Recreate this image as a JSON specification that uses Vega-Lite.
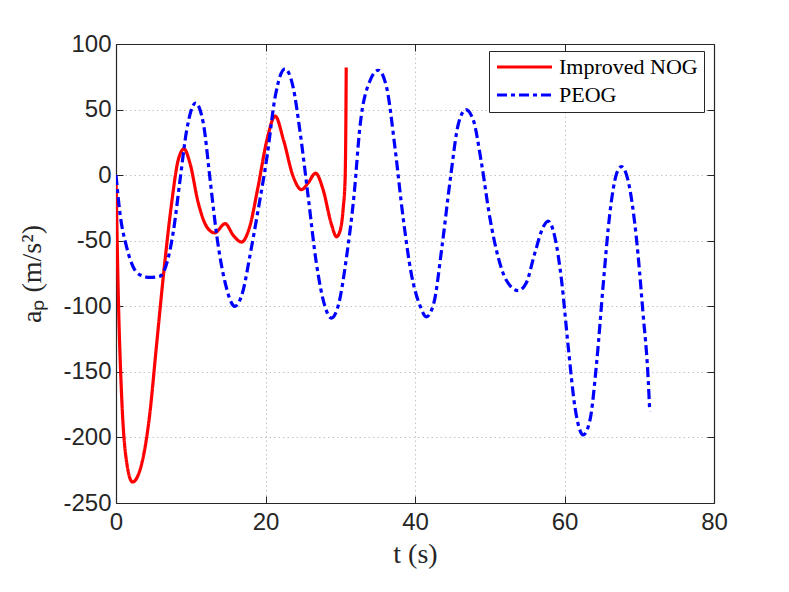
{
  "$schema": "https://vega.github.io/schema/vega-lite/v6.json",
  "width": 598,
  "height": 459,
  "autosize": {"type": "none"},
  "padding": {"left": 116, "top": 44, "right": 75, "bottom": 89},
  "background": "white",
  "config": {
    "view": {"stroke": null},
    "axis": {
      "domainColor": "#262626",
      "domainWidth": 1.2,
      "tickColor": "#262626",
      "labelColor": "#262626",
      "titleColor": "#262626",
      "labelFont": "Liberation Sans",
      "labelFontSize": 24,
      "labelFlush": false,
      "titleFont": "Liberation Serif",
      "titleFontSize": 28,
      "titleFontWeight": "normal",
      "gridColor": "#c4c4c4",
      "gridDash": [1.5, 3],
      "gridWidth": 1
    }
  },
  "data": {
    "values": [
      {"t": 0, "a": -2, "series": "Improved NOG"},
      {"t": 0.3, "a": -90, "series": "Improved NOG"},
      {"t": 0.75, "a": -168, "series": "Improved NOG"},
      {"t": 1.4, "a": -218, "series": "Improved NOG"},
      {"t": 2.2, "a": -234, "series": "Improved NOG"},
      {"t": 3.2, "a": -225, "series": "Improved NOG"},
      {"t": 4.5, "a": -183, "series": "Improved NOG"},
      {"t": 5.4, "a": -131, "series": "Improved NOG"},
      {"t": 6.5, "a": -68, "series": "Improved NOG"},
      {"t": 7.45, "a": -21, "series": "Improved NOG"},
      {"t": 8.3, "a": 11, "series": "Improved NOG"},
      {"t": 9.1, "a": 20, "series": "Improved NOG"},
      {"t": 9.9, "a": 9, "series": "Improved NOG"},
      {"t": 11, "a": -21, "series": "Improved NOG"},
      {"t": 12.1, "a": -39, "series": "Improved NOG"},
      {"t": 13.2, "a": -44, "series": "Improved NOG"},
      {"t": 14.6, "a": -37, "series": "Improved NOG"},
      {"t": 15.7, "a": -46, "series": "Improved NOG"},
      {"t": 16.8, "a": -51, "series": "Improved NOG"},
      {"t": 17.9, "a": -39, "series": "Improved NOG"},
      {"t": 19, "a": -9, "series": "Improved NOG"},
      {"t": 20.2, "a": 27, "series": "Improved NOG"},
      {"t": 21.3, "a": 45, "series": "Improved NOG"},
      {"t": 22.4, "a": 27, "series": "Improved NOG"},
      {"t": 23.7, "a": -1, "series": "Improved NOG"},
      {"t": 24.8, "a": -11, "series": "Improved NOG"},
      {"t": 25.7, "a": -6, "series": "Improved NOG"},
      {"t": 26.7, "a": 1.5, "series": "Improved NOG"},
      {"t": 27.7, "a": -11, "series": "Improved NOG"},
      {"t": 28.8, "a": -37, "series": "Improved NOG"},
      {"t": 29.5, "a": -47, "series": "Improved NOG"},
      {"t": 30.0, "a": -42, "series": "Improved NOG"},
      {"t": 30.4, "a": -25, "series": "Improved NOG"},
      {"t": 30.65, "a": -3, "series": "Improved NOG"},
      {"t": 30.75, "a": 40, "series": "Improved NOG"},
      {"t": 30.8, "a": 82, "series": "Improved NOG"},
      {"t": 0, "a": 0, "series": "PEOG"},
      {"t": 0.53, "a": -29, "series": "PEOG"},
      {"t": 1.43, "a": -55, "series": "PEOG"},
      {"t": 2.3, "a": -70, "series": "PEOG"},
      {"t": 3.2, "a": -76, "series": "PEOG"},
      {"t": 4.55, "a": -78, "series": "PEOG"},
      {"t": 5.9, "a": -77, "series": "PEOG"},
      {"t": 6.8, "a": -67, "series": "PEOG"},
      {"t": 7.7, "a": -42, "series": "PEOG"},
      {"t": 8.56, "a": -4, "series": "PEOG"},
      {"t": 9.45, "a": 34, "series": "PEOG"},
      {"t": 10.65, "a": 55, "series": "PEOG"},
      {"t": 11.7, "a": 39, "series": "PEOG"},
      {"t": 12.6, "a": -4, "series": "PEOG"},
      {"t": 13.5, "a": -47, "series": "PEOG"},
      {"t": 14.6, "a": -82, "series": "PEOG"},
      {"t": 15.9, "a": -100, "series": "PEOG"},
      {"t": 17.0, "a": -88, "series": "PEOG"},
      {"t": 17.9, "a": -62, "series": "PEOG"},
      {"t": 19.0, "a": -27, "series": "PEOG"},
      {"t": 20.2, "a": 14, "series": "PEOG"},
      {"t": 21.3, "a": 60, "series": "PEOG"},
      {"t": 22.6, "a": 81, "series": "PEOG"},
      {"t": 23.7, "a": 67, "series": "PEOG"},
      {"t": 24.6, "a": 34, "series": "PEOG"},
      {"t": 25.7, "a": -16, "series": "PEOG"},
      {"t": 26.8, "a": -67, "series": "PEOG"},
      {"t": 27.95, "a": -100, "series": "PEOG"},
      {"t": 28.8, "a": -109, "series": "PEOG"},
      {"t": 29.8, "a": -98, "series": "PEOG"},
      {"t": 30.85, "a": -62, "series": "PEOG"},
      {"t": 31.9, "a": -12, "series": "PEOG"},
      {"t": 32.6, "a": 35, "series": "PEOG"},
      {"t": 33.98, "a": 72, "series": "PEOG"},
      {"t": 35.1, "a": 80, "series": "PEOG"},
      {"t": 36.2, "a": 67, "series": "PEOG"},
      {"t": 37.3, "a": 22, "series": "PEOG"},
      {"t": 38.4, "a": -32, "series": "PEOG"},
      {"t": 39.5, "a": -75, "series": "PEOG"},
      {"t": 40.7, "a": -100, "series": "PEOG"},
      {"t": 41.5, "a": -108, "series": "PEOG"},
      {"t": 42.5, "a": -98, "series": "PEOG"},
      {"t": 43.6, "a": -55, "series": "PEOG"},
      {"t": 44.7, "a": -4, "series": "PEOG"},
      {"t": 45.8, "a": 39, "series": "PEOG"},
      {"t": 46.8, "a": 50, "series": "PEOG"},
      {"t": 47.8, "a": 42, "series": "PEOG"},
      {"t": 48.9, "a": 9, "series": "PEOG"},
      {"t": 50.0, "a": -32, "series": "PEOG"},
      {"t": 51.1, "a": -62, "series": "PEOG"},
      {"t": 52.2, "a": -80, "series": "PEOG"},
      {"t": 53.8, "a": -88, "series": "PEOG"},
      {"t": 54.9, "a": -82, "series": "PEOG"},
      {"t": 56.0, "a": -60, "series": "PEOG"},
      {"t": 57.2, "a": -39, "series": "PEOG"},
      {"t": 57.8, "a": -35, "series": "PEOG"},
      {"t": 58.7, "a": -47, "series": "PEOG"},
      {"t": 59.6, "a": -80, "series": "PEOG"},
      {"t": 60.5, "a": -131, "series": "PEOG"},
      {"t": 61.4, "a": -177, "series": "PEOG"},
      {"t": 62.5, "a": -198, "series": "PEOG"},
      {"t": 63.4, "a": -187, "series": "PEOG"},
      {"t": 64.3, "a": -143, "series": "PEOG"},
      {"t": 65.2, "a": -82, "series": "PEOG"},
      {"t": 66.07, "a": -29, "series": "PEOG"},
      {"t": 66.96, "a": 1, "series": "PEOG"},
      {"t": 67.6, "a": 6.5, "series": "PEOG"},
      {"t": 68.5, "a": -4, "series": "PEOG"},
      {"t": 69.6, "a": -47, "series": "PEOG"},
      {"t": 70.5, "a": -105, "series": "PEOG"},
      {"t": 71.2, "a": -156, "series": "PEOG"},
      {"t": 71.4, "a": -180, "series": "PEOG"}
    ]
  },
  "resolve": {"axis": {"x": "independent", "y": "independent"}},
  "layer": [
    {
      "mark": {"type": "line", "interpolate": "monotone", "strokeWidth": 3.2, "clip": true},
      "encoding": {
        "x": {
          "field": "t", "type": "quantitative",
          "scale": {"domain": [0, 80], "nice": false, "zero": false},
          "axis": {"values": [0, 20, 40, 60, 80], "title": "t (s)", "tickSize": -7, "labelPadding": 14, "titlePadding": 6, "grid": true, "labelExpr": "replace(datum.label, '\u2212', '-')"}
        },
        "y": {
          "field": "a", "type": "quantitative",
          "scale": {"domain": [-250, 100], "nice": false, "zero": false},
          "axis": {"values": [-250, -200, -150, -100, -50, 0, 50, 100], "title": "aₚ (m/s²)", "tickSize": -7, "labelPadding": 12, "titlePadding": 16, "grid": true, "labelExpr": "replace(datum.label, '\u2212', '-')"}
        },
        "color": {
          "field": "series", "type": "nominal",
          "scale": {"domain": ["Improved NOG", "PEOG"], "range": ["#ff0000", "#0000ff"]},
          "legend": {
            "title": null,
            "orient": "none",
            "legendX": 373,
            "legendY": 7,
            "direction": "vertical",
            "symbolType": "stroke",
            "symbolSize": 3025,
            "symbolStrokeWidth": 3.2,
            "labelFont": "Liberation Serif",
            "labelFontSize": 22,
            "labelColor": "#000000",
            "labelOffset": 5,
            "rowPadding": 6,
            "padding": 6,
            "clipHeight": 20,
            "strokeColor": "#262626",
            "fillColor": "white",
            "labelLimit": 300,
            "zindex": 2
          }
        },
        "strokeDash": {
          "field": "series", "type": "nominal",
          "scale": {"domain": ["Improved NOG", "PEOG"], "range": [[1, 0], [10, 4, 4, 4]]},
          "legend": {
            "title": null,
            "orient": "none",
            "legendX": 373,
            "legendY": 7,
            "direction": "vertical",
            "symbolType": "stroke",
            "symbolSize": 3025,
            "symbolStrokeWidth": 3.2,
            "labelFont": "Liberation Serif",
            "labelFontSize": 22,
            "labelColor": "#000000",
            "labelOffset": 5,
            "rowPadding": 6,
            "padding": 6,
            "clipHeight": 20,
            "strokeColor": "#262626",
            "fillColor": "white",
            "labelLimit": 300,
            "zindex": 2
          }
        }
      }
    },
    {
      "mark": {"type": "line", "opacity": 0},
      "encoding": {
        "x": {
          "field": "t", "type": "quantitative",
          "axis": {"orient": "top", "values": [0, 20, 40, 60, 80], "title": null, "labels": false, "tickSize": -7, "grid": false, "zindex": 1}
        },
        "y": {
          "field": "a", "type": "quantitative",
          "axis": {"orient": "right", "values": [-250, -200, -150, -100, -50, 0, 50, 100], "title": null, "labels": false, "tickSize": -7, "grid": false, "zindex": 1}
        },
        "detail": {"field": "series", "type": "nominal"}
      }
    }
  ]
}
